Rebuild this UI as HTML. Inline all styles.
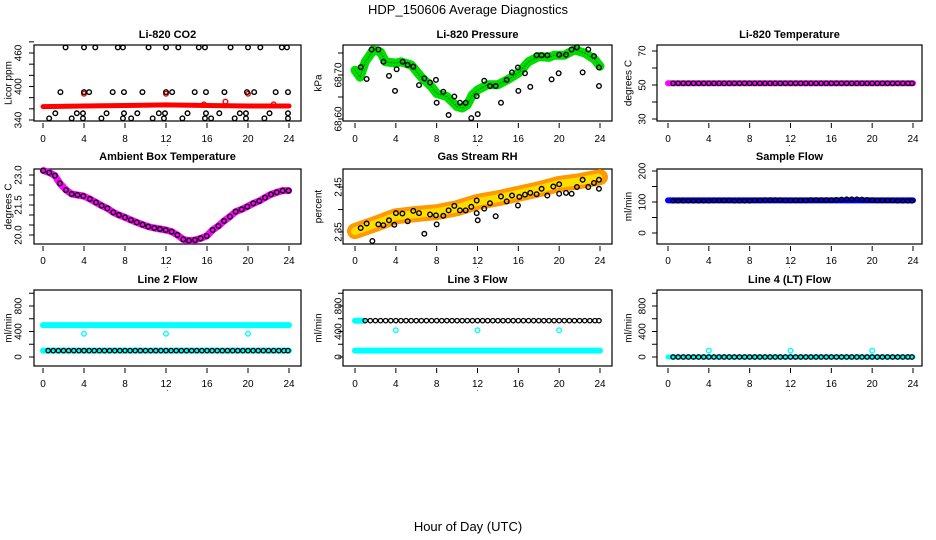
<!DOCTYPE html>
<html><head><meta charset="utf-8">
<style>
html,body{margin:0;padding:0;background:#fff;}
svg{display:block;font-family:"Liberation Sans",sans-serif;}
.t{font-weight:bold;font-size:11px;text-anchor:middle;}
.tk{font-size:10px;text-anchor:middle;}
</style></head>
<body>
<svg id="chart" width="936" height="540" viewBox="0 0 936 540" xmlns="http://www.w3.org/2000/svg">
<text x="468" y="14" font-size="13" text-anchor="middle">HDP_150606  Average Diagnostics</text>
<text x="468" y="531" font-size="13" text-anchor="middle">Hour of Day (UTC)</text>
</svg>
<script>
// ---------- data ----------
const co2TopHours=[2.2,4,5.1,7.3,7.8,10.3,12,13.2,15.2,15.8,18.3,20,21.2,23.3,23.8];
const co2MidHours=[1.7,4,4.5,6.8,7.9,9.7,12,12.6,14.8,15.9,17.7,19.9,20.6,22.7,23.9];
const co2LowHours=[1.2,3.3,3.9,6.2,7.9,9.2,11.3,11.9,14.1,15.9,17.2,19.2,19.8,22.1,23.9];
const co2BotHours=[0.6,2.8,3.9,5.7,7.8,8.6,10.7,11.8,13.6,15.8,16.4,18.7,19.8,21.6,23.9];
const co2TopVal=470, co2MidVal=390, co2LowVal=352, co2BotVal=343;
const co2BandHours=[0,4,8,12,16,20,24];
const co2BandVals=[364,365,366,367,366,365,365];
const co2RedHours=[4,12,20,17.8,15.7,22.5];
const co2RedVals=[387,387,387,373,368,368];

const presBandHours=[0,0.5,1,1.8,2.5,3,4,4.5,5.5,6.5,7.5,8,9,10,10.5,11,11.5,12,13,14,15,16,17,18,19,19.5,20.5,21.5,22.5,23.5,24];
const presBandVals=[68.711,68.695,68.730,68.757,68.752,68.730,68.727,68.730,68.723,68.695,68.673,68.658,68.651,68.628,68.625,68.632,68.655,68.666,68.678,68.678,68.690,68.704,68.730,68.742,68.740,68.745,68.745,68.757,68.750,68.735,68.720];
const presPtHours=[0.56,1.14,1.63,2.29,2.78,3.33,3.92,4.08,4.67,5.16,5.71,6.27,6.79,7.35,7.93,8.0,8.65,9.17,9.73,10.28,10.84,11.39,11.92,12.02,12.66,13.22,13.78,14.30,14.86,15.38,15.96,16.0,16.65,17.17,17.79,18.28,18.84,19.26,19.95,20.0,20.67,21.22,21.74,22.30,22.85,23.41,23.9,23.9];
const presPtVals=[68.718,68.691,68.758,68.758,68.730,68.698,68.664,68.713,68.730,68.723,68.719,68.677,68.692,68.683,68.689,68.637,68.662,68.609,68.651,68.637,68.637,68.602,68.652,68.611,68.687,68.675,68.675,68.637,68.689,68.706,68.717,68.664,68.704,68.673,68.745,68.745,68.745,68.690,68.704,68.746,68.746,68.758,68.763,68.706,68.758,68.743,68.717,68.675];

const lcTempHours=[0.5,1,1.5,2,2.5,3,3.5,4,4.5,5,5.5,6,6.5,7,7.5,8,8.5,9,9.5,10,10.5,11,11.5,12,12.5,13,13.5,14,14.5,15,15.5,16,16.5,17,17.5,18,18.5,19,19.5,20,20.5,21,21.5,22,22.5,23,23.5,23.9];
const lcTempVals=[51,51,51,51,51,51,51,51,51,51,51,51,51,51,51,51,51,51,51,51,51,51,51,51,51,51,51,51,51,51,51,51,51,51,51,51,51,51,51,51,51,51,51,51,51,51,51,51];

const ambHours=[0.03,0.61,1.16,1.65,2.24,2.8,3.35,3.93,4.58,5.17,5.72,6.28,6.86,7.41,8.0,8.58,9.14,9.72,10.27,10.86,11.41,11.97,12.55,13.11,13.69,14.24,14.83,15.38,15.97,16.55,17.11,17.66,18.24,18.8,19.38,19.93,20.52,21.1,21.66,22.24,22.8,23.38,23.96];
const ambVals=[23.22,23.12,22.97,22.58,22.25,22.05,22.0,21.95,21.8,21.63,21.47,21.33,21.13,21.0,20.88,20.75,20.63,20.52,20.42,20.35,20.30,20.25,20.17,20.0,19.78,19.72,19.75,19.83,19.95,20.25,20.45,20.7,20.92,21.17,21.28,21.42,21.58,21.7,21.87,22.03,22.13,22.22,22.22];

const rhBandHours=[0,2,4,6,8,10,12,14,16,18,20,22,24];
const rhBandVals=[2.352,2.368,2.385,2.390,2.394,2.403,2.417,2.425,2.435,2.445,2.457,2.463,2.472];
const rhPtHours=[0.56,1.14,1.7,2.29,2.78,3.33,3.85,4.01,4.64,5.16,5.71,6.27,6.79,7.35,7.93,8.0,8.65,9.17,9.73,10.28,10.84,11.39,11.92,11.92,12.02,12.66,13.22,13.78,14.3,14.86,15.38,15.96,16.1,16.65,17.17,17.79,18.28,18.84,19.43,20.0,20.0,20.67,21.22,21.74,22.3,22.85,23.41,23.9,23.9];
const rhPtVals=[2.359,2.369,2.33,2.367,2.365,2.376,2.366,2.392,2.391,2.374,2.397,2.392,2.346,2.389,2.387,2.367,2.386,2.398,2.408,2.398,2.398,2.406,2.42,2.392,2.376,2.402,2.414,2.385,2.429,2.418,2.431,2.409,2.428,2.433,2.437,2.434,2.446,2.431,2.451,2.456,2.435,2.437,2.435,2.45,2.466,2.45,2.459,2.466,2.446];

const flowHours=lcTempHours;
const sampleFlowVals=[104,104,104,104,104,104,104,104,105,105,105,105,104,104,104,104,105,105,106,106,106,106,105,105,105,105,105,106,106,106,106,106,107,108,109,109,109,108,107,106,105,105,105,105,104,104,104,104];
const line2LowVal=100, line2HighVal=500, line2OutVal=365;
const line3LowVal=100, line3HighVal=570, line3OutVal=420;
const line4Val=0, line4OutVal=100;
const outlierHours=[4,12,20];

// ---------- layout ----------
const svg=document.getElementById('chart');
const NS='http://www.w3.org/2000/svg';
const cols=[{b0:34,b1:301,h0:43,h24:289,lab:18,yl:8},{b0:343,b1:612,h0:355,h24:600,lab:338,yl:318},{b0:657,b1:922,h0:668,h24:913,lab:642,yl:628}];
const rows=[{t:45,b:121,title:38,xl:142},{t:169,b:244,title:160,xl:264},{t:290,b:366,title:283,xl:387}];

function mk(tag,attrs,parent){const e=document.createElementNS(NS,tag);for(const k in attrs)e.setAttribute(k,attrs[k]);(parent||svg).appendChild(e);return e;}

function panel(name,ci,ri,title,ylab,v0,p0,v1,p1,ticks,labels){
  const c=cols[ci],r=rows[ri];
  const g=mk('g',{});
  
  
  const xs=h=>c.h0+h*(c.h24-c.h0)/24;
  const ys=v=>p0+(v-v0)*(p1-p0)/(v1-v0);
  const box=mk('rect',{x:c.b0,y:r.t,width:c.b1-c.b0,height:r.b-r.t,fill:'none',stroke:'#000','stroke-width':1.2},g);
  
  
  const tt=mk('text',{x:(c.b0+c.b1)/2,y:r.title,class:'t'},g);tt.textContent=title;
  
  
  const yt=mk('text',{x:c.yl,y:(r.t+r.b)/2,'font-size':10,'text-anchor':'middle',transform:`rotate(-90 ${c.yl} ${(r.t+r.b)/2})`,dy:'0.35em'},g);yt.textContent=ylab;
  
  
  const xa=mk('g',{},g);
  
  
  [0,4,8,12,16,20,24].forEach(h=>{
    mk('line',{x1:xs(h),x2:xs(h),y1:r.b+2,y2:r.b+7,stroke:'#000'},xa);
    const l=mk('text',{x:xs(h),y:r.xl,class:'tk'},xa);l.textContent=h;
  });
  const dot=mk('text',{x:(c.b0+c.b1)/2,y:r.xl+4,'font-size':8,'text-anchor':'middle'},xa);dot.textContent='.';
  const ya=mk('g',{},g);
  
  
  ticks.forEach(v=>{const y=ys(v);if(y<r.t-6||y>r.b+6)return;mk('line',{x1:c.b0-5,x2:c.b0,y1:y,y2:y,stroke:'#000'},ya);});
  labels.forEach(([v,s])=>{const y=ys(v);const l=mk('text',{x:c.lab,y:y,'font-size':10,'text-anchor':'middle',transform:`rotate(-90 ${c.lab} ${y})`,dy:'0.35em'},ya);l.textContent=s;});
  return {g,xs,ys};
}
function band(P,hours,vals,color,w,name,dash){
  const pts=hours.map((h,i)=>P.xs(h).toFixed(1)+','+P.ys(vals[i]).toFixed(1)).join(' ');
  const a={points:pts,fill:'none',stroke:color,'stroke-width':w,'stroke-linejoin':'round','stroke-linecap':'round'};
  if(dash)a['stroke-dasharray']=dash;
  const e=mk('polyline',a,P.g);
  
  
}
function pts(P,hours,vals,color,name,r,sw){
  const gg=mk('g',{},P.g);
  
  
  hours.forEach((h,i)=>{
    const v=Array.isArray(vals)?vals[i]:vals;
    const e=mk('circle',{cx:P.xs(h),cy:P.ys(v),r:r||2.3,fill:'none',stroke:color,'stroke-width':sw||1.4},gg);
    
    
  });
}
function flat(arr,v){return arr.map(()=>v);}

// CO2
let P=panel('co2',0,0,'Li-820 CO2','Licor ppm',340,120,460,53,[340,360,380,400,420,440,460,480],[[340,'340'],[400,'400'],[460,'460']]);
band(P,co2BandHours,co2BandVals,'#f00',5,'co2-band');
pts(P,co2RedHours,co2RedVals,'#f00','co2-red');
pts(P,co2TopHours,co2TopVal,'#000','co2-top');
pts(P,co2MidHours,co2MidVal,'#000','co2-mid');
pts(P,co2LowHours,co2LowVal,'#000','co2-low');
pts(P,co2BotHours,co2BotVal,'#000','co2-bot');

// Pressure
P=panel('pressure',1,0,'Li-820 Pressure','kPa',68.60,119,68.70,75,[68.60,68.65,68.70,68.75],[[68.60,'68.60'],[68.70,'68.70']]);
band(P,presBandHours,presBandVals,'#0d0',9,'pressure-band');
band(P,presBandHours,presBandVals,'#070',1,'pressure-band-speckle','1 2');
pts(P,presPtHours,presPtVals,'#000','pressure-points');

// Li-820 temp
P=panel('li820-temp',2,0,'Li-820 Temperature','degrees C',30,119,70,51,[30,40,50,60,70],[[30,'30'],[50,'50'],[70,'70']]);
band(P,[0,24],[51,51],'#f0f',6,'li820-temp-band');
pts(P,lcTempHours,lcTempVals,'#000','li820-temp-points',2.2,1.3);

// Ambient
P=panel('ambient-temp',0,1,'Ambient Box Temperature','degrees C',20,235,23,175,[20,20.5,21,21.5,22,22.5,23],[[20,'20.0'],[21.5,'21.5'],[23,'23.0']]);
band(P,ambHours,ambVals,'#f0f',7,'ambient-band');
pts(P,ambHours,ambVals,'#000','ambient-points');

// RH
P=panel('rh',1,1,'Gas Stream RH','percent',2.35,232,2.45,187,[2.35,2.40,2.45],[[2.35,'2.35'],[2.45,'2.45']]);
band(P,rhBandHours,rhBandVals,'#f90',16,'rh-band');
band(P,rhBandHours,rhBandVals,'#fd0',8,'rh-band-inner','1 2');
pts(P,rhPtHours,rhPtVals,'#000','rh-points');

// Sample flow
P=panel('sample-flow',2,1,'Sample Flow','ml/min',0,233,200,171,[0,50,100,150,200],[[0,'0'],[100,'100'],[200,'200']]);
band(P,[0,24],[105,105],'#00f',6,'sample-flow-band');
pts(P,flowHours,sampleFlowVals,'#000','sample-flow-points',2.2,1.3);

const flowTicks=[0,200,400,600,800,1000],flowLabs=[[0,'0'],[400,'400'],[800,'800']];
// Line 2
P=panel('line2-flow',0,2,'Line 2 Flow','ml/min',0,357,800,306,flowTicks,flowLabs);
band(P,[0,24],[line2HighVal,line2HighVal],'cyan',6,'line2-high-band');
band(P,[0,24],[line2LowVal,line2LowVal],'cyan',6,'line2-low-band');
pts(P,flowHours,flat(flowHours,line2LowVal),'#000','line2-points',2.2,1.3);
pts(P,outlierHours,line2OutVal,'cyan','line2-outliers');

// Line 3
P=panel('line3-flow',1,2,'Line 3 Flow','ml/min',0,357,800,306,flowTicks,flowLabs);
band(P,[0,0.8],[line3HighVal,line3HighVal],'cyan',6,'line3-start-band');
band(P,[0,24],[line3LowVal,line3LowVal],'cyan',6,'line3-low-band');
pts(P,flowHours.slice(1),flat(flowHours.slice(1),line3HighVal),'#000','line3-points',2.2,1.3);
pts(P,outlierHours,line3OutVal,'cyan','line3-outliers');

// Line 4
P=panel('line4-flow',2,2,'Line 4 (LT) Flow','ml/min',0,357,800,306,flowTicks,flowLabs);
band(P,[0,24],[line4Val,line4Val],'cyan',5,'line4-band');
pts(P,flowHours,flat(flowHours,line4Val),'#000','line4-points',2.2,1.3);
pts(P,outlierHours,line4OutVal,'cyan','line4-outliers');
</script>
</body></html>
